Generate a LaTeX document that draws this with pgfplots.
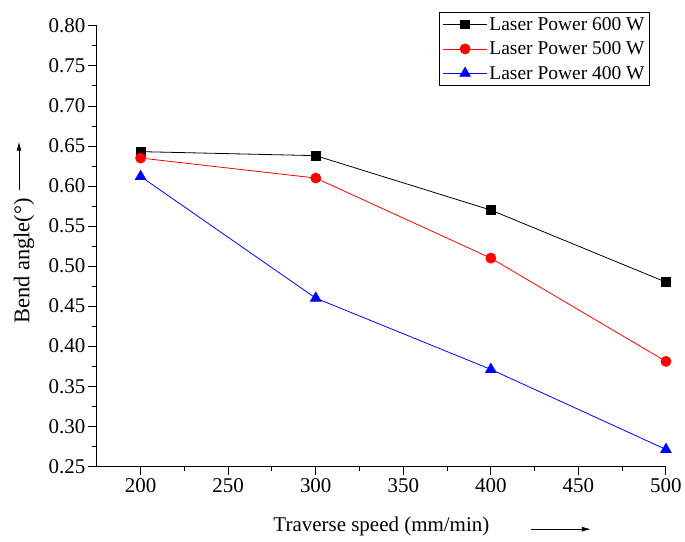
\documentclass[border=0pt]{standalone}
\usepackage{fontspec}
\setmainfont{Liberation Serif}
\usepackage{pgfplots}
\pgfplotsset{compat=1.18}
\usetikzlibrary{arrows.meta}
\begin{document}
\begin{tikzpicture}[font=\rmfamily]
\begin{axis}[
  scale only axis, width=570pt, height=441pt,
  xmin=175, xmax=500, ymin=0.25, ymax=0.80,
  axis lines*=left,
  axis line style={line width=1.1pt},
  xtick={200,250,300,350,400,450,500},
  ytick={0.25,0.30,0.35,0.40,0.45,0.50,0.55,0.60,0.65,0.70,0.75,0.80},
  minor x tick num=1, minor y tick num=1,
  tick align=outside,
  major tick length=9pt, minor tick length=5pt,
  every tick/.style={black, line width=1pt},
  /pgf/number format/assume math mode=true,
  tick label style={font=\rmfamily\fontsize{21}{24}\selectfont},
  yticklabel style={/pgf/number format/fixed, /pgf/number format/fixed zerofill, /pgf/number format/precision=2, xshift=1pt},
  clip=false,
  legend style={at={(axis description cs:0.972,1.032)}, anchor=north east, draw=black, line width=0.8pt,
    font=\rmfamily\fontsize{19.5}{22}\selectfont, row sep=6pt, inner sep=3pt},
  legend cell align=left,
  legend image code/.code={\draw[mark repeat=2,mark phase=2] plot coordinates {(0pt,0pt) (22pt,0pt) (44pt,0pt)};},
]
\addplot[black, line width=0.8pt, mark=square*, mark size=4.3pt, mark options={solid}] coordinates {(200,0.643) (300,0.638) (400,0.570) (500,0.480)};
\addlegendentry{Laser Power 600 W}
\addplot[red, line width=0.8pt, mark=*, mark size=5pt] coordinates {(200,0.635) (300,0.610) (400,0.510) (500,0.381)};
\addlegendentry{Laser Power 500 W}
\addplot[blue, line width=0.8pt, mark=triangle*, mark size=6pt] coordinates {(200,0.612) (300,0.460) (400,0.371) (500,0.271)};
\addlegendentry{Laser Power 400 W}
\node[rotate=90, font=\rmfamily\fontsize{22.5}{26}\selectfont] at ([xshift=-73pt]axis description cs:0,0.466) {Bend angle(°)};
\draw[-{Latex[length=9pt,width=5pt]}, line width=0.8pt] ([xshift=-78pt]axis description cs:0,0.628) -- ([xshift=-78pt]axis description cs:0,0.737);
\node[font=\rmfamily\fontsize{21}{24}\selectfont] at ([yshift=-60pt]axis description cs:0.5,0) {Traverse speed (mm/min)};
\draw[-{Latex[length=9pt,width=5pt]}, line width=0.8pt] ([yshift=-63pt]axis description cs:0.763,0) -- ([yshift=-63pt]axis description cs:0.868,0);
\end{axis}
\path ([xshift=-97pt,yshift=-75pt]current axis.south west) rectangle ([xshift=18pt,yshift=26pt]current axis.north east);
\end{tikzpicture}
\end{document}
